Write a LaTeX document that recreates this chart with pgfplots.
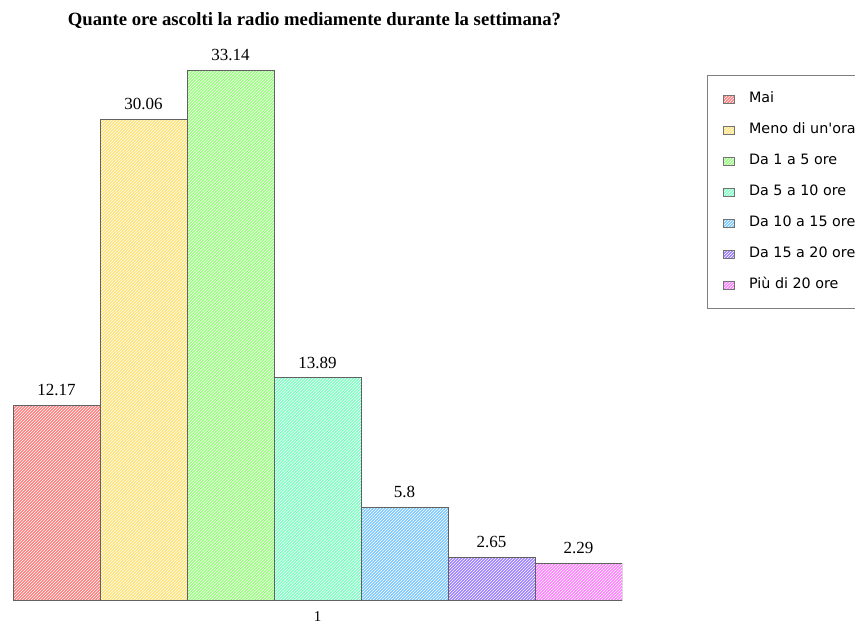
\documentclass[border=0pt]{standalone}
\usepackage{fontspec}
\setmainfont{Liberation Serif}
\newfontfamily\legendfont{DejaVu Sans}
\usepackage{pgfplots}
\pgfplotsset{compat=1.18}
\usetikzlibrary{patterns}

\definecolor{cMai}{HTML}{FF7F7F}
\definecolor{cMeno}{HTML}{FFE27A}
\definecolor{cUnoCinque}{HTML}{99FF7F}
\definecolor{cCinqueDieci}{HTML}{7FFFC4}
\definecolor{cDieciQuindici}{HTML}{7FC8FF}
\definecolor{cQuindiciVenti}{HTML}{9D7FFF}
\definecolor{cVenti}{HTML}{FF7FFF}

\tikzset{
  hatched/.style={fill=#1, draw=black!62, line width=0.8pt,
    postaction={pattern=north east lines, pattern color=white!100}},
}

\begin{document}
\begin{tikzpicture}
\useasboundingbox (0,0) rectangle (855pt,625pt);
\clip (0,0) rectangle (855pt,625pt);
\begin{axis}[
  at={(13pt,25pt)}, anchor=south west,
  scale only axis, width=609pt, height=530pt,
  xmin=0.5, xmax=1.5, ymin=0, ymax=33.14,
  ybar=0pt, bar width=87pt,
  axis line style={draw=none},
  major tick length=0pt,
  xtick={1}, xticklabels={1}, ytick=\empty,
  xticklabel style={font=\fontsize{15}{17}\selectfont, yshift=-8pt},
  /pgf/number format/assume math mode=true,
  /pgf/number format/fixed,
  /pgf/number format/precision=2,
  nodes near coords,
  every node near coord/.append style={font=\fontsize{17}{20}\selectfont,
    anchor=south, inner sep=0pt, yshift=9pt, text=black},
  title={Quante ore ascolti la radio mediamente durante la settimana?},
  title style={font=\bfseries\fontsize{18.7}{22}\selectfont,
    at={(0.495,1)}, anchor=base, yshift=38pt},
  area legend,
  legend image code/.code={\draw[#1, draw=black!55, line width=0.6pt] (0pt,-4pt) rectangle (11pt,4pt);},
  legend cell align=left,
  legend style={at={(1.1396,0.9906)}, anchor=north west,
    draw=black!50, line width=1pt,
    font=\legendfont\fontsize{14.3}{16}\selectfont,
    inner xsep=15pt, inner ysep=17pt,
    row sep=18pt, column sep=0pt,
    nodes={inner sep=0pt, text height=10pt, text depth=3pt},
    /tikz/every odd column/.append style={column sep=15pt}},
]
\addplot[hatched=cMai] coordinates {(1,12.17)};
\addlegendentry{Mai}
\addplot[hatched=cMeno] coordinates {(1,30.06)};
\addlegendentry{Meno di un{\char"0027}ora}
\addplot[hatched=cUnoCinque] coordinates {(1,33.14)};
\addlegendentry{Da 1 a 5 ore}
\addplot[hatched=cCinqueDieci] coordinates {(1,13.89)};
\addlegendentry{Da 5 a 10 ore}
\addplot[hatched=cDieciQuindici] coordinates {(1,5.8)};
\addlegendentry{Da 10 a 15 ore}
\addplot[hatched=cQuindiciVenti] coordinates {(1,2.65)};
\addlegendentry{Da 15 a 20 ore}
\addplot[hatched=cVenti] coordinates {(1,2.29)};
\addlegendentry{Più di 20 ore}
\end{axis}
\end{tikzpicture}
\end{document}
